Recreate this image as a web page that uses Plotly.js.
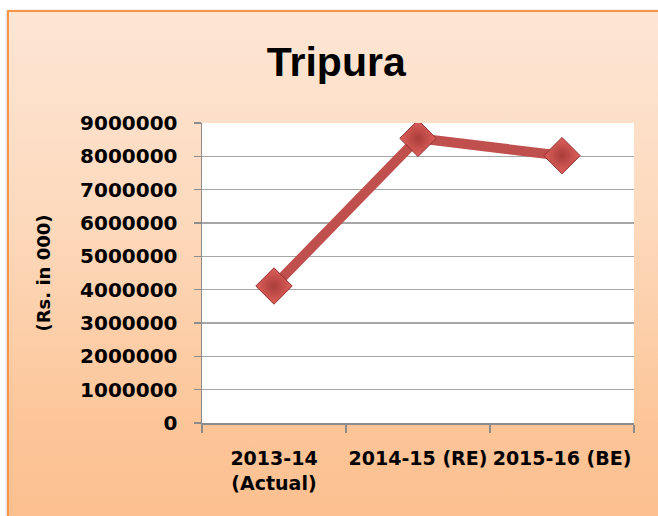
<!DOCTYPE html>
<html>
<head>
<meta charset="utf-8">
<script src="https://cdn.plot.ly/plotly-3.0.1.min.js"></script>
<style>
  html, body { margin: 0; padding: 0; background: #ffffff; }
  #wrap { position: relative; width: 658px; height: 516px; overflow: hidden; }
  #frame {
    position: absolute; left: 7px; top: 10px; width: 660px; height: 520px;
    border-left: 2px solid #f79646; border-top: 2px solid #f79646;
    background: linear-gradient(to bottom, #fde6d5 0%, #fdd9bc 40%, #fcc598 80%, #fcbf8e 100%);
    box-shadow: -1px 0 2px rgba(0,0,0,0.15);
  }
  #chart { position: absolute; left: 0; top: 0; width: 658px; height: 516px; }
</style>
</head>
<body>
<div id="wrap">
  <div id="frame"></div>
  <div id="chart"></div>
</div>
<script>
const categories = ["2013-14<br>(Actual)", "2014-15 (RE)", "2015-16 (BE)"];
const values = [4110000, 8540000, 8020000];
const yTicks = [0, 1000000, 2000000, 3000000, 4000000, 5000000, 6000000, 7000000, 8000000, 9000000];
const yTickLabels = ["0", "1000000", "2000000", "3000000", "4000000", "5000000", "6000000", "7000000", "8000000", "9000000"];
const chartTitle = "Tripura";
const yTitle = "(Rs. in 000)";

const trace = {
  type: "scatter",
  mode: "lines+markers",
  x: categories,
  y: values,
  line: { color: "#c0504d", width: 10 },
  marker: {
    symbol: "diamond",
    size: 28,
    color: "#e0605c",
    gradient: { type: "radial", color: "#a83d3a" },
    line: { color: "#8e2f2d", width: 1 }
  },
  hoverinfo: "skip",
  showlegend: false
};

const layout = {
  width: 658,
  height: 516,
  margin: { l: 202, r: 24, t: 123, b: 93 },
  paper_bgcolor: "rgba(0,0,0,0)",
  plot_bgcolor: "#ffffff",
  title: {
    text: chartTitle,
    font: { family: "Liberation Sans", size: 41, color: "#000000", weight: "bold" },
    x: 0.511, xanchor: "center",
    y: 0.88, yanchor: "middle",
    xref: "container", yref: "container"
  },
  xaxis: {
    type: "category",
    range: [-0.5, 2.5],
    tickson: "boundaries",
    ticks: "outside",
    ticklen: 8,
    tickwidth: 1.5,
    tickcolor: "#8c8c8c",
    tickangle: 0,
    showgrid: false,
    showline: true,
    linecolor: "#8c8c8c",
    linewidth: 1.5,
    tickfont: { family: "DejaVu Sans", size: 19, color: "#000000", weight: "bold" },
    ticklabelstandoff: 18,
    fixedrange: true
  },
  yaxis: {
    range: [0, 9000000],
    tickvals: yTicks,
    ticktext: yTickLabels,
    ticks: "outside",
    ticklen: 7,
    tickwidth: 1.5,
    tickcolor: "#8c8c8c",
    showgrid: true,
    gridcolor: "#a6a6a6",
    gridwidth: 1.5,
    showline: true,
    linecolor: "#8c8c8c",
    linewidth: 1.5,
    zeroline: false,
    tickfont: { family: "DejaVu Sans", size: 20, color: "#000000", weight: "bold" },
    ticklabelstandoff: 12,
    title: {
      text: yTitle,
      font: { family: "DejaVu Sans", size: 18, color: "#000000", weight: "bold" },
      standoff: 25
    },
    fixedrange: true
  }
};

Plotly.newPlot("chart", [trace], layout, { displayModeBar: false, staticPlot: true });
</script>
</body>
</html>
